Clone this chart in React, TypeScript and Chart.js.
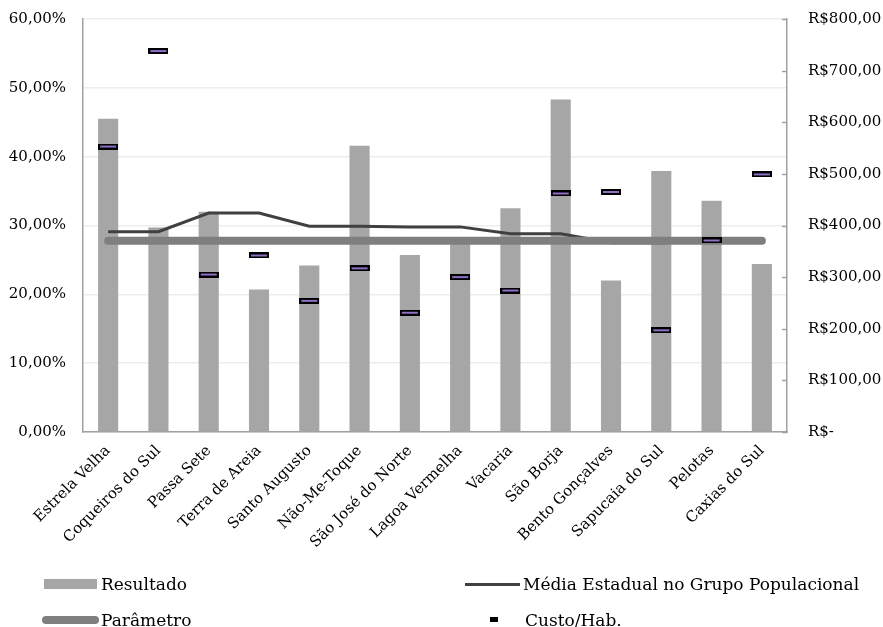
import React, { useEffect, useRef } from 'react';
import { Chart, registerables } from 'chart.js';

Chart.register(...registerables);

const categories = [
  'Estrela Velha',
  'Coqueiros do Sul',
  'Passa Sete',
  'Terra de Areia',
  'Santo Augusto',
  'Não-Me-Toque',
  'São José do Norte',
  'Lagoa Vermelha',
  'Vacaria',
  'São Borja',
  'Bento Gonçalves',
  'Sapucaia do Sul',
  'Pelotas',
  'Caxias do Sul',
];

const resultado = [45.5, 29.7, 32.0, 20.7, 24.2, 41.6, 25.7, 27.7, 32.5, 48.3, 22.0, 37.9, 33.6, 24.4];
const mediaEstadual = [29.1, 29.1, 31.8, 31.8, 29.9, 29.9, 29.8, 29.8, 28.8, 28.8, 27.5, 27.5, 27.6, 27.6];
const parametro = [27.8, 27.8, 27.8, 27.8, 27.8, 27.8, 27.8, 27.8, 27.8, 27.8, 27.8, 27.8, 27.8, 27.8];
const custoHab = [553, 738, 305, 342, 254, 317, 231, 300, 274, 462, 465, 197, 371, 499];

const FONT = "'DejaVu Serif', serif";
const AXIS = '#A0A0A0';

function makeMarker(w: number, h: number, b: number) {
  const c = document.createElement('canvas');
  c.width = w;
  c.height = h;
  const ctx = c.getContext('2d')!;
  ctx.fillStyle = '#000000';
  ctx.fillRect(0, 0, w, h);
  ctx.fillStyle = '#8E6FC1';
  ctx.fillRect(b, b, w - 2 * b, h - 2 * b);
  return c;
}

const innerTicks = {
  id: 'innerTicks',
  afterDraw(chart: any) {
    const s = chart.scales.y1;
    if (!s) return;
    const ctx = chart.ctx;
    ctx.save();
    ctx.strokeStyle = AXIS;
    ctx.lineWidth = 1.5;
    const x = chart.chartArea.right;
    s.ticks.forEach((t: any) => {
      const y = Math.round(s.getPixelForValue(t.value)) + 0.5;
      ctx.beginPath();
      ctx.moveTo(x - 5, y);
      ctx.lineTo(x, y);
      ctx.stroke();
    });
    ctx.restore();
  },
};

export default function App() {
  const ref = useRef<HTMLCanvasElement>(null);

  useEffect(() => {
    if (!ref.current) return;
    const marker = makeMarker(20, 6, 2);
    const chart = new Chart(ref.current, {
      type: 'bar',
      data: {
        labels: categories,
        datasets: [
          {
            type: 'bar',
            label: 'Resultado',
            data: resultado,
            backgroundColor: '#A6A6A6',
            yAxisID: 'y',
            order: 4,
            barPercentage: 0.4,
            categoryPercentage: 1,
          },
          {
            type: 'line',
            label: 'Média Estadual no Grupo Populacional',
            data: mediaEstadual,
            borderColor: '#404040',
            borderWidth: 3,
            pointRadius: 0,
            tension: 0,
            yAxisID: 'y',
            order: 3,
          },
          {
            type: 'line',
            label: 'Parâmetro',
            data: parametro,
            borderColor: '#7F7F7F',
            borderWidth: 8,
            borderCapStyle: 'round',
            pointRadius: 0,
            tension: 0,
            yAxisID: 'y',
            order: 2,
          },
          {
            type: 'line',
            label: 'Custo/Hab.',
            data: custoHab,
            showLine: false,
            pointStyle: marker as any,
            pointRadius: 10,
            yAxisID: 'y1',
            order: 1,
          },
        ] as any,
      },
      options: {
        animation: false,
        responsive: true,
        maintainAspectRatio: false,
        layout: { padding: { top: 19, left: 0, right: 0, bottom: 0 } },
        plugins: {
          legend: { display: false },
          tooltip: { enabled: false },
        },
        scales: {
          x: {
            grid: { display: false },
            border: { color: AXIS, width: 1.5 },
            ticks: {
              maxRotation: 45,
              minRotation: 45,
              autoSkip: false,
              color: '#000',
              font: { family: FONT, size: 15 },
              padding: 2,
            },
            afterFit: (s: any) => {
              s.height = 195;
            },
          },
          y: {
            position: 'left',
            min: 0,
            max: 60,
            ticks: {
              stepSize: 10,
              color: '#000',
              font: { family: FONT, size: 15 },
              padding: 0,
              callback: (v: any) => Number(v).toFixed(2).replace('.', ',') + '%',
            },
            grid: { color: '#EDEDED', lineWidth: 1.5, tickLength: 17, tickColor: 'rgba(0,0,0,0)' },
            border: { color: AXIS, width: 1.5 },
            afterFit: (s: any) => {
              s.width = 83;
            },
          },
          y1: {
            position: 'right',
            min: 0,
            max: 800,
            ticks: {
              stepSize: 100,
              color: '#000',
              font: { family: FONT, size: 15 },
              padding: 0,
              callback: (v: any) =>
                Number(v) === 0 ? 'R$-' : 'R$' + Number(v).toFixed(2).replace('.', ','),
            },
            grid: { drawOnChartArea: false, tickLength: 21, tickColor: 'rgba(0,0,0,0)' },
            border: { color: AXIS, width: 1.5 },
            afterFit: (s: any) => {
              s.width = 96;
            },
          },
        },
      } as any,
      plugins: [innerTicks],
    });
    return () => chart.destroy();
  }, []);

  const text: React.CSSProperties = {
    position: 'absolute',
    fontFamily: FONT,
    fontSize: 17,
    color: '#000',
    lineHeight: '20px',
    whiteSpace: 'nowrap',
  };

  return (
    <div style={{ position: 'absolute', left: 0, top: 0, width: 883, height: 627, background: '#fff' }}>
      <canvas ref={ref} />
      <div style={{ position: 'absolute', left: 44, top: 579, width: 53, height: 10, background: '#A6A6A6' }} />
      <div style={{ ...text, left: 101, top: 574 }}>Resultado</div>
      <div style={{ position: 'absolute', left: 465, top: 583, width: 55, height: 3, background: '#404040' }} />
      <div style={{ ...text, left: 523, top: 574 }}>Média Estadual no Grupo Populacional</div>
      <div
        style={{ position: 'absolute', left: 42, top: 616, width: 57, height: 8, borderRadius: 4, background: '#7F7F7F' }}
      />
      <div style={{ ...text, left: 101, top: 610 }}>Parâmetro</div>
      <div style={{ position: 'absolute', left: 490, top: 617, width: 8, height: 5, background: '#000' }} />
      <div style={{ ...text, left: 525, top: 610 }}>Custo/Hab.</div>
    </div>
  );
}
